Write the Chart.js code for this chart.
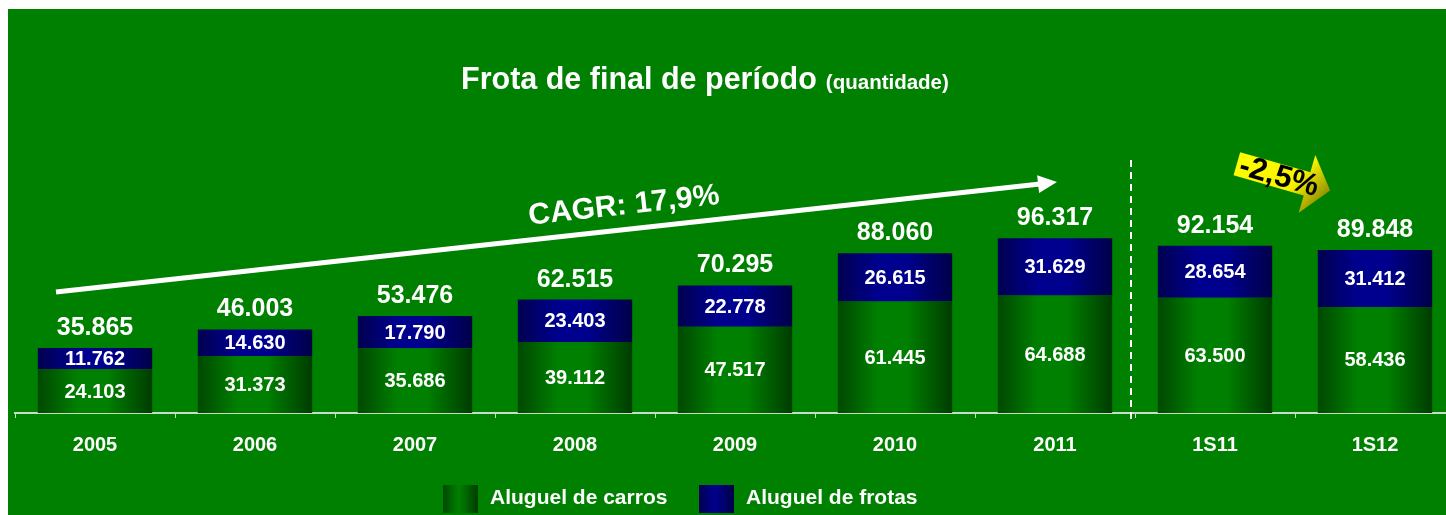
<!DOCTYPE html>
<html>
<head>
<meta charset="utf-8">
<script src="https://cdn.jsdelivr.net/npm/chart.js@4.4.1/dist/chart.umd.min.js"></script>
<style>
  html, body { margin: 0; padding: 0; background: #fff; overflow: hidden; }
  #wrap { width: 1446px; height: 515px; overflow: hidden; }
</style>
</head>
<body>
<div id="wrap"><canvas id="fleetChart" width="1462" height="515"></canvas></div>
<script>
const periods = ["2005", "2006", "2007", "2008", "2009", "2010", "2011", "1S11", "1S12"];
const carRental = [24103, 31373, 35686, 39112, 47517, 61445, 64688, 63500, 58436];
const fleetRental = [11762, 14630, 17790, 23403, 22778, 26615, 31629, 28654, 31412];
const totals = [35865, 46003, 53476, 62515, 70295, 88060, 96317, 92154, 89848];
const seriesNames = ["Aluguel de carros", "Aluguel de frotas"];

const FONT = "'Liberation Sans', Arial, sans-serif";
const BG = "#008000";

function fmt(n) {
  return String(n).replace(/\B(?=(\d{3})+(?!\d))/g, ".");
}

function barGradient(ctx, stops) {
  const chart = ctx.chart;
  if (!chart.chartArea || ctx.dataIndex === undefined) return stops[1];
  const x = chart.scales.x.getPixelForValue(ctx.dataIndex);
  const half = (chart.chartArea.width / periods.length) * 0.715 / 2;
  const g = chart.ctx.createLinearGradient(x - half, 0, x + half, 0);
  g.addColorStop(0, stops[0]);
  g.addColorStop(0.35, stops[1]);
  g.addColorStop(0.6, stops[1]);
  g.addColorStop(1, stops[2]);
  return g;
}

const greenStops = ["#004800", "#008000", "#003c00"];
const blueStops = ["#000050", "#00008e", "#000048"];

const backdrop = {
  id: "backdrop",
  beforeDraw(chart) {
    const c = chart.ctx;
    c.save();
    c.fillStyle = "#ffffff";
    c.fillRect(0, 0, chart.width, chart.height);
    c.fillStyle = BG;
    c.fillRect(8, 9, chart.width, chart.height);
    c.restore();
  }
};

const decorations = {
  id: "decorations",
  afterDatasetsDraw(chart) {
    const c = chart.ctx;
    c.save();

    // title
    c.fillStyle = "#ffffff";
    c.textBaseline = "alphabetic";
    c.textAlign = "left";
    c.font = "bold 30.5px " + FONT;
    const title = "Frota de final de período";
    c.fillText(title, 461, 89);
    const tw = c.measureText(title).width;
    c.font = "bold 20.5px " + FONT;
    c.fillText("(quantidade)", 461 + tw + 9, 89);

    // segment values
    c.textAlign = "center";
    c.textBaseline = "middle";
    c.font = "bold 20px " + FONT;
    [carRental, fleetRental].forEach((values, di) => {
      chart.getDatasetMeta(di).data.forEach((bar, i) => {
        const p = bar.getProps(["x", "y", "base"], true);
        c.fillText(fmt(values[i]), p.x, (p.y + p.base) / 2 + 1);
      });
    });

    // totals above bars
    c.font = "bold 25px " + FONT;
    c.textBaseline = "alphabetic";
    chart.getDatasetMeta(1).data.forEach((bar, i) => {
      const p = bar.getProps(["x", "y"], true);
      c.fillText(fmt(totals[i]), p.x, p.y - 13);
    });

    // dashed separator between 2011 and 1S11
    const xs = chart.scales.x;
    const sepX = (xs.getPixelForValue(6) + xs.getPixelForValue(7)) / 2 - 4;
    c.strokeStyle = "#ffffff";
    c.lineWidth = 2;
    c.setLineDash([7, 5]);
    c.beginPath();
    c.moveTo(sepX, 160);
    c.lineTo(sepX, 420);
    c.stroke();
    c.setLineDash([]);

    // CAGR arrow
    c.lineWidth = 5;
    c.beginPath();
    c.moveTo(56, 292);
    c.lineTo(1040, 184);
    c.stroke();
    const ang = Math.atan2(184 - 292, 1040 - 56);
    c.save();
    c.translate(1057, 182);
    c.rotate(ang);
    c.fillStyle = "#ffffff";
    c.beginPath();
    c.moveTo(0, 0);
    c.lineTo(-19, -9);
    c.lineTo(-19, 9);
    c.closePath();
    c.fill();
    c.restore();

    c.save();
    c.translate(624, 206);
    c.rotate(ang);
    c.fillStyle = "#ffffff";
    c.font = "bold 30px " + FONT;
    c.textAlign = "center";
    c.textBaseline = "middle";
    c.fillText("CAGR: 17,9%", 0, 0);
    c.restore();

    // -2,5% callout arrow
    c.save();
    c.translate(1283, 177);
    c.rotate(16 * Math.PI / 180);
    const yg = c.createLinearGradient(-48, -20, 48, 28);
    yg.addColorStop(0, "#ffff00");
    yg.addColorStop(0.6, "#f8f200");
    yg.addColorStop(1, "#6e6e00");
    c.fillStyle = yg;
    c.beginPath();
    c.moveTo(-48, -12);
    c.lineTo(25, -12);
    c.lineTo(25, -30);
    c.lineTo(49, 0);
    c.lineTo(25, 30);
    c.lineTo(25, 12);
    c.lineTo(-48, 12);
    c.closePath();
    c.fill();
    c.fillStyle = "#000000";
    c.font = "bold 31px " + FONT;
    c.textAlign = "center";
    c.textBaseline = "middle";
    c.fillText("-2,5%", -4, 1);
    c.restore();

    // legend
    const legendItems = [
      { x: 443, stops: greenStops, label: seriesNames[0] },
      { x: 699, stops: blueStops, label: seriesNames[1] }
    ];
    c.font = "bold 21px " + FONT;
    c.textAlign = "left";
    c.textBaseline = "middle";
    legendItems.forEach((item) => {
      const g = c.createLinearGradient(item.x, 0, item.x + 35, 0);
      g.addColorStop(0, item.stops[0]);
      g.addColorStop(0.45, item.stops[1]);
      g.addColorStop(1, item.stops[2]);
      c.fillStyle = g;
      c.fillRect(item.x, 485, 35, 28);
      c.fillStyle = "#ffffff";
      c.fillText(item.label, item.x + 47, 498);
    });

    c.restore();
  }
};

new Chart(document.getElementById("fleetChart"), {
  type: "bar",
  data: {
    labels: periods,
    datasets: [
      {
        label: seriesNames[0],
        data: carRental,
        backgroundColor: (ctx) => barGradient(ctx, greenStops),
        barPercentage: 0.715,
        categoryPercentage: 1
      },
      {
        label: seriesNames[1],
        data: fleetRental,
        backgroundColor: (ctx) => barGradient(ctx, blueStops),
        barPercentage: 0.715,
        categoryPercentage: 1
      }
    ]
  },
  options: {
    responsive: false,
    animation: false,
    layout: { padding: { left: 15, right: 7, top: 177, bottom: 0 } },
    plugins: {
      legend: { display: false },
      tooltip: { enabled: false }
    },
    scales: {
      x: {
        stacked: true,
        offset: true,
        border: { color: "#c8dcc8", width: 2 },
        grid: {
          offset: true,
          drawOnChartArea: false,
          color: "#c8dcc8",
          tickLength: 5,
          lineWidth: 1
        },
        ticks: {
          color: "#ffffff",
          font: { family: FONT, size: 20, weight: "bold" },
          padding: 15
        },
        afterFit(scale) {
          scale.height = 102;
        }
      },
      y: {
        stacked: true,
        display: false,
        min: 0,
        max: 130000
      }
    }
  },
  plugins: [backdrop, decorations]
});
</script>
</body>
</html>
